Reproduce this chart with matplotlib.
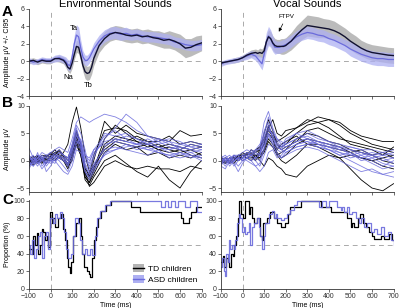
import numpy as np
import matplotlib.pyplot as plt
from matplotlib.patches import Patch
from matplotlib.lines import Line2D

# ---- colours ----
TD_LINE = "black"
TD_FILL = "#b4b4b4"
ASD_LINE = "#6b6bdc"
ASD_FILL = "#aeb0f2"

# ---- panel A: grand means and CI half widths ----
t_a = [-100, -80, -60, -40, -20, 0, 20, 40, 60, 70, 80, 90, 100, 110, 120, 130, 140, 150, 160, 170,
       180, 190, 200, 225, 250, 275, 300, 325, 350, 375, 400, 425, 450, 475, 500, 525, 550, 575,
       600, 625, 650, 675, 700]

env_td = [0.0, 0.1, -0.1, 0.1, 0.0, 0.0, 0.3, 0.3, 0.1, -0.2, -0.7, -0.9, -0.2, 0.8, 1.7, 1.6, 0.6,
          -0.5, -1.2, -1.4, -1.3, -0.7, 0.3, 1.8, 2.6, 3.1, 3.3, 3.2, 3.0, 2.9, 3.0, 2.8, 2.9, 2.7,
          2.6, 2.4, 2.5, 2.3, 2.0, 1.5, 1.6, 1.9, 2.1]
env_td_ci = [0.3, 0.3, 0.3, 0.3, 0.3, 0.3, 0.3, 0.4, 0.4, 0.5, 0.5, 0.5, 0.6, 0.6, 0.7, 0.7, 0.7,
             0.7, 0.8, 0.8, 0.8, 0.8, 0.8, 0.8, 0.8, 0.8, 0.8, 0.8, 0.8, 0.8, 0.8, 0.8, 0.8, 0.8,
             0.9, 0.9, 1.0, 1.0, 1.1, 1.1, 1.0, 1.0, 0.9]
env_asd = [0.1, -0.1, 0.0, 0.2, 0.1, 0.1, 0.3, 0.4, 0.2, 0.0, -0.4, -0.5, 0.5, 2.0, 3.0, 2.8, 1.5,
           0.5, 0.1, 0.1, 0.4, 0.9, 1.4, 2.3, 2.9, 3.2, 3.3, 3.1, 3.2, 3.0, 3.1, 2.9, 2.8, 2.8, 2.7,
           2.6, 2.5, 2.2, 2.1, 1.9, 1.8, 1.8, 1.9]
env_asd_ci = [0.3, 0.3, 0.3, 0.3, 0.3, 0.3, 0.4, 0.4, 0.4, 0.5, 0.6, 0.6, 0.8, 1.0, 1.2, 1.1, 0.9,
              0.7, 0.6, 0.6, 0.6, 0.6, 0.7, 0.7, 0.7, 0.7, 0.7, 0.7, 0.7, 0.6, 0.6, 0.6, 0.6, 0.6,
              0.6, 0.6, 0.6, 0.6, 0.6, 0.6, 0.6, 0.6, 0.6]

voc_td = [-0.2, -0.1, 0.0, 0.1, 0.2, 0.4, 0.7, 0.9, 1.0, 0.9, 1.0, 0.9, 1.2, 2.2, 2.8, 2.6, 2.1,
          1.8, 1.7, 1.7, 1.7, 1.7, 1.8, 2.3, 3.0, 3.6, 4.1, 4.0, 3.9, 3.8, 3.7, 3.5, 3.2, 2.8, 2.3,
          1.9, 1.5, 1.2, 1.0, 0.9, 0.8, 0.7, 0.65]
voc_td_ci = [0.2, 0.2, 0.2, 0.3, 0.3, 0.3, 0.3, 0.4, 0.4, 0.4, 0.5, 0.5, 0.6, 0.7, 0.8, 0.8, 0.8,
             0.8, 0.8, 0.8, 0.9, 0.9, 0.9, 1.0, 1.1, 1.1, 1.2, 1.2, 1.2, 1.1, 1.1, 1.1, 1.0, 1.0,
             1.0, 1.0, 0.9, 0.9, 0.9, 0.9, 0.9, 0.9, 0.9]
voc_asd = [-0.3, -0.1, 0.0, 0.1, 0.2, 0.4, 0.6, 0.8, 0.6, 0.3, 0.0, -0.3, 0.8, 2.2, 2.9, 2.6, 2.0,
           1.6, 1.6, 1.6, 1.7, 1.8, 1.9, 2.3, 2.8, 3.1, 3.3, 3.2, 3.0, 2.9, 2.6, 2.4, 2.1, 1.8, 1.4,
           1.1, 0.8, 0.6, 0.4, 0.3, 0.3, 0.2, 0.2]
voc_asd_ci = [0.3, 0.3, 0.3, 0.3, 0.3, 0.3, 0.4, 0.4, 0.5, 0.5, 0.6, 0.7, 0.9, 1.1, 1.1, 1.0, 0.9,
              0.8, 0.7, 0.7, 0.7, 0.7, 0.7, 0.7, 0.7, 0.7, 0.7, 0.7, 0.7, 0.7, 0.7, 0.7, 0.7, 0.7,
              0.8, 0.8, 0.8, 0.8, 0.8, 0.8, 0.8, 0.8, 0.8]

# ---- panel B: individual children ----
t_b = [-100, -80, -60, -40, -20, 0, 20, 40, 60, 80, 100, 120, 140, 160, 180, 200, 250, 300, 350,
       400, 450, 500, 550, 600, 650, 700]

env_td_subj = [
    [0.5, -0.5, 0.8, 0.2, 0.5, 0.3, 1.0, 0.5, 1.5, 3.0, 7.0, 9.8, 6.0, 1.0, -2.0, -1.0, 2.0, 3.5, 3.0, 2.5, 3.0, 2.0, 2.5, 2.0, 3.0, 2.5],
    [-0.5, 0.3, -0.2, 0.5, 0.0, 0.8, 1.2, 0.5, 0.0, -1.5, 0.5, 3.0, 1.0, -3.5, -4.5, -3.0, 0.0, 1.0, -0.5, -2.0, -3.0, -1.0, -3.5, -5.0, -2.0, 0.0],
    [0.2, 0.8, 0.0, -0.5, 0.5, 1.5, 1.0, 2.0, 1.0, 0.0, 2.0, 5.0, 3.0, -1.0, -3.0, 0.0, 7.2, 5.0, 6.5, 5.0, 4.5, 4.0, 3.5, 5.5, 4.5, 4.8],
    [-1.0, 0.0, 0.5, -0.3, 1.0, 0.5, 0.0, 1.0, 0.5, -1.0, 1.0, 4.0, 2.5, -2.0, -4.7, -4.0, -1.0, 0.0, -1.0, -1.5, -1.0, -1.5, -1.5, -2.0, -1.0, -1.5],
    [0.5, -0.3, 0.2, 1.0, 0.8, 1.2, 2.0, 1.0, 0.5, -0.5, 1.5, 4.5, 2.0, -2.5, -3.5, -2.0, 3.0, 4.5, 4.0, 3.5, 2.5, 3.0, 2.0, 1.5, 2.0, 1.0],
    [-0.3, 0.5, 1.0, 0.3, -0.5, 0.8, 1.5, 1.8, 1.0, 0.5, 2.5, 5.5, 3.0, -1.5, -2.5, 1.0, 5.5, 6.0, 5.5, 4.0, 3.5, 3.5, 4.5, 3.0, 3.5, 3.0],
    [0.0, -0.8, -0.2, 0.5, 0.2, 0.0, 0.5, 1.5, 0.8, -1.0, 0.0, 3.5, 1.5, -3.0, -4.0, -2.5, 1.5, 3.0, 2.0, 2.5, 1.0, 1.5, 0.5, 1.0, 0.5, 1.5],
    [0.3, 0.0, -0.5, 0.5, 1.0, 0.5, 1.0, 0.5, 0.0, -0.5, 1.5, 4.0, 2.0, -2.0, -3.0, -1.0, 2.5, 4.0, 3.5, 4.5, 3.5, 2.5, 3.0, 2.5, 2.0, 2.5],
    [-0.5, 0.5, 0.5, 0.0, -0.5, 1.0, 1.5, 1.0, 0.0, -1.0, 1.0, 3.0, 1.0, -3.0, -4.0, -1.5, 4.0, 6.5, 5.0, 3.5, 3.0, 2.0, 1.5, 2.0, 1.0, 0.5],
]
env_asd_subj = [
    [1.0, 0.0, 0.5, 1.5, 1.0, 1.5, 2.0, 2.5, 2.0, 1.5, 4.0, 7.0, 8.0, 7.5, 7.0, 7.5, 8.5, 8.0, 7.0, 5.5, 4.5, 4.0, 3.5, 3.0, 3.5, 3.0],
    [0.0, -1.0, 0.5, 0.0, -0.5, 1.0, 0.5, 1.5, 1.0, 0.5, 3.0, 6.0, 3.0, 0.0, -1.0, 1.0, 4.0, 6.0, 8.5, 7.0, 4.5, 3.5, 4.0, 3.5, 2.5, 3.0],
    [2.3, 0.5, -0.5, 0.0, 1.0, 0.5, 1.0, 0.5, 0.0, -0.5, 1.5, 5.0, 2.5, -1.0, -2.5, -1.0, 2.5, 4.0, 3.5, 3.0, 3.5, 2.5, 2.0, 3.0, 2.5, 2.0],
    [-1.0, 0.5, 0.0, -1.5, -0.5, 0.0, -0.5, 1.0, 0.5, -1.0, 2.0, 4.0, 2.0, -2.0, -3.0, -1.5, 1.0, 3.5, 4.5, 4.0, 3.0, 3.5, 2.5, 2.0, 1.5, 2.0],
    [0.5, 1.0, -0.5, 0.5, -2.0, -1.0, 0.5, 0.0, -1.0, -2.0, 0.0, 3.0, 4.0, 1.0, 0.5, 2.0, 3.0, 3.5, 3.0, 2.5, 2.0, 1.5, 1.0, 1.5, 0.5, 1.0],
    [-0.5, -0.5, 1.5, -1.0, 0.0, 0.5, 1.5, 2.0, 1.0, 0.0, 3.0, 6.5, 5.0, 2.0, -1.5, 0.5, 5.0, 4.5, 5.0, 4.0, 3.0, 4.0, 3.0, 2.5, 2.0, 2.5],
    [0.0, 0.5, 0.0, 0.8, -1.0, 0.0, 0.0, -1.0, -2.0, -2.5, -1.0, 2.0, 1.5, -2.0, -3.5, -2.0, 1.5, 2.0, 2.5, 3.0, 2.0, 2.5, 1.5, 1.0, 1.5, 0.5],
    [1.0, -0.5, 0.5, 1.0, 0.5, 1.5, 1.0, 0.5, 0.5, 0.0, 2.5, 5.5, 3.5, 0.5, -0.5, 2.0, 4.5, 5.5, 4.0, 3.0, 4.0, 3.0, 3.5, 2.0, 3.0, 2.5],
    [-1.5, 0.0, -1.0, 0.5, 0.0, -0.5, 0.5, 1.0, 0.5, -0.5, 1.0, 3.5, 3.0, -0.5, -2.0, -0.5, 2.0, 2.5, 2.0, 1.5, 1.0, 2.0, 0.5, 1.5, 1.0, 0.5],
    [0.5, 0.0, 1.0, 0.5, 0.5, 0.0, 1.0, 1.5, 1.0, 0.5, 2.0, 4.5, 3.5, 1.0, 0.0, 1.5, 3.5, 4.0, 3.5, 3.0, 3.0, 2.5, 2.0, 2.5, 2.0, 1.5],
    [-0.5, -1.0, 0.0, 0.5, -0.5, 0.5, 0.0, 0.5, 0.0, -1.0, 0.5, 2.5, 2.5, -1.0, -2.5, -1.0, 1.0, 2.0, 3.0, 2.0, 2.5, 1.5, 1.0, 0.5, 1.0, 0.0],
]
voc_td_subj = [
    [0.0, 0.5, 0.0, 0.5, 1.0, 0.5, 1.5, 1.0, 2.0, 2.5, 4.0, 6.0, 7.5, 5.0, 4.5, 5.5, 6.0, 7.0, 8.0, 7.5, 7.0, 5.5, 4.5, 4.0, 3.5, 3.5],
    [0.5, -0.5, 0.0, 0.5, 0.0, 1.0, 0.5, 0.5, 1.0, 0.0, -1.0, 0.5, 0.0, -1.0, -1.5, -2.5, -3.0, -1.0, 0.0, 1.0, 0.5, 1.0, 0.5, 0.0, 0.5, 1.0],
    [-0.5, 0.0, 0.5, 0.0, 0.5, 0.5, 1.0, 1.5, 0.5, 1.0, 2.0, 5.0, 4.0, 2.0, 3.0, 3.5, 4.5, 3.0, 2.5, 1.5, 0.5, -1.5, -3.5, -5.0, -5.5, -4.2],
    [0.0, 0.5, -0.5, 1.0, 0.5, 1.5, 1.0, 2.0, 1.5, 2.5, 3.5, 5.5, 4.5, 3.0, 2.5, 3.0, 5.0, 6.5, 7.0, 7.5, 6.5, 5.0, 4.0, 3.0, 2.5, 2.0],
    [0.5, 0.0, 0.5, 0.0, 1.0, 0.0, 0.5, 1.0, 0.0, 1.5, 3.0, 6.5, 4.0, 1.0, 1.5, 2.0, 4.0, 5.0, 4.5, 3.5, 3.0, 2.0, 1.5, 1.0, 0.0, -0.5],
    [-0.5, 0.0, 0.0, -0.5, 0.5, 1.0, 0.5, 0.0, 1.0, 0.5, 2.0, 4.0, 3.0, 1.5, 0.5, 1.0, 3.0, 4.0, 3.5, 3.0, 2.5, 1.5, 2.0, 1.0, 1.5, 0.5],
    [0.0, -0.5, 0.5, 0.5, 0.0, 0.5, 1.5, 1.0, 0.5, 2.0, 5.0, 7.5, 5.5, 3.0, 2.0, 2.5, 3.5, 5.5, 6.0, 5.0, 4.0, 3.5, 3.0, 2.5, 2.0, 1.5],
    [0.0, 0.5, 0.0, 0.5, 0.5, 1.0, 1.0, 1.5, 1.0, 0.5, 1.5, 3.5, 2.5, 1.0, 0.0, -0.5, 1.0, 3.0, 3.0, 2.5, 2.0, 1.5, 0.5, 0.0, -1.0, -1.5],
    [0.5, 0.0, -0.5, 0.0, 1.0, 1.0, 0.5, 1.0, 1.5, 2.0, 3.0, 6.0, 5.0, 3.5, 4.0, 4.5, 6.0, 7.5, 7.0, 6.0, 4.5, 3.0, 2.5, 2.0, 1.0, 2.5],
]
voc_asd_subj = [
    [0.5, -0.5, 0.0, 1.0, 0.5, 0.0, 0.5, 1.0, 1.5, 2.5, 7.0, 9.0, 6.0, 4.0, 3.5, 3.0, 4.0, 4.5, 3.5, 3.0, 2.5, 2.0, 1.5, 1.0, 0.5, -0.5],
    [-1.0, -1.5, 0.0, -0.5, -2.0, -0.5, 0.5, 0.0, -1.0, -0.5, 2.0, 5.0, 3.0, 1.0, 0.5, 1.5, 2.5, 3.0, 2.5, 2.0, 1.0, 0.0, -1.0, -2.0, -2.5, -3.0],
    [0.0, 0.5, 1.0, 0.0, 0.5, 1.0, 1.5, 1.0, 0.5, 1.0, 4.0, 6.0, 4.5, 3.0, 2.0, 3.5, 5.0, 5.5, 4.5, 3.5, 2.5, 2.5, 2.0, 1.0, 1.5, 1.0],
    [0.5, 0.0, -0.5, 0.5, 0.0, 0.5, 0.0, -0.5, -1.0, -2.0, -1.0, 1.5, 2.0, 0.5, 1.0, 2.0, 3.0, 3.5, 3.0, 2.0, 1.5, 0.5, 1.0, 0.0, -1.0, 0.0],
    [-0.5, 0.5, 0.0, 1.0, 1.0, 1.5, 2.0, 1.5, 1.0, 1.5, 3.5, 5.5, 5.0, 4.0, 3.0, 2.5, 3.5, 4.0, 3.5, 3.0, 2.0, 1.5, 0.5, 1.0, 0.0, 0.5],
    [0.0, -1.0, 0.5, -1.0, 0.0, 0.5, 1.0, 0.5, 0.0, -1.0, 1.0, 3.0, 2.5, 1.5, 0.5, 1.0, 2.0, 2.5, 2.0, 1.0, 0.0, -1.0, -2.0, -1.5, -2.5, -2.0],
    [1.0, 0.0, 0.5, 0.0, 0.5, 0.0, 0.5, 2.0, 1.5, 1.0, 5.0, 8.0, 5.5, 3.5, 2.5, 4.0, 5.0, 4.0, 3.0, 2.5, 2.5, 1.0, 1.5, 0.5, 1.0, 0.5],
    [-1.0, 0.5, -0.5, 0.0, -1.0, 0.0, 0.5, 0.0, 0.5, 0.0, 2.5, 4.5, 3.0, 2.0, 1.5, 2.0, 3.0, 3.5, 2.5, 2.0, 1.0, 1.5, 0.0, 0.5, -0.5, -1.0],
    [0.5, 1.0, 0.0, 0.5, 1.0, 0.5, 1.0, 1.5, 2.0, 3.0, 4.5, 6.5, 4.0, 2.5, 2.0, 1.5, 2.5, 3.0, 3.5, 2.5, 2.0, 2.0, 1.0, 1.5, 1.0, 1.5],
    [0.0, 0.5, -1.0, 0.0, 0.5, 1.0, 0.5, 1.0, 0.5, 1.0, 3.0, 5.0, 3.5, 2.5, 2.0, 2.5, 3.5, 4.0, 3.0, 2.5, 1.5, 1.0, 0.5, -0.5, -1.5, -1.0],
    [-0.5, 0.0, 0.5, 1.0, 0.0, 0.5, 1.5, 1.0, 2.0, 2.0, 5.5, 7.0, 4.0, 3.0, 2.5, 3.0, 4.0, 5.0, 4.0, 3.5, 3.0, 2.5, 2.0, 2.0, 1.5, 2.0],
]

# ---- panel C: proportion (step functions, change points) ----
env_td_prop_t = [-100, -88, -80, -72, -65, -57, -49, -41, -33, -26, -18, -11, -3, 5, 12, 20, 36, 47,
                 59, 66, 74, 82, 90, 97, 105, 120, 133, 140, 148, 156, 167, 179, 185, 194, 202, 210,
                 220, 236, 259, 282, 371, 413, 606, 614, 622, 643, 652, 675, 700]
env_td_prop = [45, 40, 60, 50, 63, 40, 50, 68, 65, 55, 60, 47, 87, 75, 80, 70, 80, 85, 68, 55, 35,
               25, 18, 30, 60, 75, 80, 60, 40, 25, 20, 17, 13, 35, 55, 70, 80, 88, 95, 100, 93, 87,
               80, 75, 75, 80, 87, 93, 93]
env_asd_prop_t = [-100, -94, -86, -75, -67, -59, -49, -38, -29, -21, -14, -3, 9, 20, 32, 43, 55, 63,
                  71, 82, 93, 102, 114, 125, 136, 145, 159, 170, 182, 194, 205, 216, 228, 251, 274,
                  513, 529, 545, 560, 575, 590, 625, 645, 680, 700]
env_asd_prop = [50, 40, 55, 35, 45, 60, 65, 35, 60, 65, 45, 80, 75, 85, 80, 87, 80, 65, 45, 35, 40,
                60, 80, 75, 55, 40, 45, 38, 45, 38, 60, 80, 88, 95, 100, 93, 100, 93, 100, 93, 100,
                93, 100, 87, 87]

voc_td_prop_t = [-100, -92, -84, -77, -69, -61, -53, -46, -38, -30, -22, -15, -7, 1, 9, 29, 36, 44,
                 55, 67, 80, 88, 95, 111, 129, 145, 160, 176, 199, 210, 222, 269, 354, 362, 408,
                 486, 501, 509, 517, 533, 545, 556, 571, 587, 602, 610, 641, 656, 680, 695, 700]
voc_td_prop = [30, 37, 25, 35, 30, 25, 40, 37, 50, 60, 80, 100, 85, 80, 100, 85, 93, 80, 75, 80, 60,
               55, 75, 80, 87, 80, 75, 70, 75, 85, 93, 100, 100, 93, 87, 80, 70, 75, 70, 80, 85,
               75, 70, 65, 60, 57, 60, 57, 62, 55, 55]
voc_asd_prop_t = [-100, -94, -88, -83, -75, -69, -64, -57, -49, -41, -33, -26, -18, -10, -2, 6, 13,
                  21, 29, 36, 44, 52, 67, 75, 83, 91, 99, 106, 122, 137, 145, 153, 160, 176, 192,
                  207, 222, 238, 253, 354, 370, 385, 401, 440, 455, 463, 471, 486, 494, 509, 525,
                  540, 548, 564, 579, 594, 610, 625, 641, 656, 672, 687, 700]
voc_asd_prop = [25, 35, 20, 15, 40, 30, 55, 45, 50, 45, 55, 75, 85, 80, 65, 70, 62, 65, 75, 50, 70,
                75, 80, 70, 60, 45, 60, 75, 85, 88, 80, 85, 80, 78, 80, 85, 90, 95, 100, 93, 100, 93,
                100, 93, 90, 93, 87, 93, 85, 87, 80, 75, 80, 70, 75, 65, 68, 62, 70, 60, 65, 55, 50]

titles = ["Environmental Sounds", "Vocal Sounds"]
ylabels = ["Amplitude μV +/- CI95", "Amplitude μV", "Proportion (%)"]


def style_axes(ax, ylim, yticks):
    ax.set_xlim(-100, 702)
    ax.set_ylim(*ylim)
    ax.set_yticks(yticks)
    ax.set_xticks(range(-100, 701, 100))
    for side in ("top", "right"):
        ax.spines[side].set_visible(False)
    for side in ("left", "bottom"):
        ax.spines[side].set_color("#333333")
        ax.spines[side].set_linewidth(0.6)
    ax.tick_params(labelsize=5, length=2, width=0.5, pad=1, colors="#333333")
    ax.axvline(0, color="#aaaaaa", lw=0.7, ls=(0, (5, 4)), zorder=0)


plt.rcParams["font.family"] = ["Liberation Sans", "DejaVu Sans"]
fig = plt.figure(figsize=(4.0, 3.08), dpi=100)

cols_x = [0.0725, 0.5525]
col_w = 0.4325
rows = [(0.688, 0.283), (0.377, 0.279), (0.062, 0.289)]
letter_y = [0.961, 0.666, 0.351]

panel_a = [(env_td, env_td_ci, env_asd, env_asd_ci), (voc_td, voc_td_ci, voc_asd, voc_asd_ci)]
panel_b = [(env_td_subj, env_asd_subj), (voc_td_subj, voc_asd_subj)]
panel_c = [(env_td_prop_t, env_td_prop, env_asd_prop_t, env_asd_prop),
           (voc_td_prop_t, voc_td_prop, voc_asd_prop_t, voc_asd_prop)]

for c in range(2):
    x0 = cols_x[c]
    # A
    axA = fig.add_axes([x0, rows[0][0], col_w, rows[0][1]])
    style_axes(axA, (-4, 6), [-4, -2, 0, 2, 4, 6])
    axA.set_xticklabels([])
    axA.axhline(0, color="#aaaaaa", lw=0.7, ls=(0, (5, 4)), zorder=0)
    td, td_ci, asd, asd_ci = (np.array(v, dtype=float) for v in panel_a[c])
    axA.fill_between(t_a, td - td_ci, td + td_ci, color=TD_FILL, lw=0, alpha=0.9)
    axA.fill_between(t_a, asd - asd_ci, asd + asd_ci, color=ASD_FILL, lw=0, alpha=0.75)
    axA.plot(t_a, asd, color=ASD_LINE, lw=0.9)
    axA.plot(t_a, td, color="#101030", lw=1.0)
    axA.set_title(titles[c], fontsize=8, pad=0)

    # B
    axB = fig.add_axes([x0, rows[1][0], col_w, rows[1][1]])
    style_axes(axB, (-5.7, 10), [-5, 0, 5, 10])
    axB.set_xticklabels([])
    subj_td, subj_asd = panel_b[c]
    for y in subj_td:
        axB.plot(t_b, y, color=TD_LINE, lw=0.6)
    for y in subj_asd:
        axB.plot(t_b, y, color=ASD_LINE, lw=0.6, alpha=0.85)

    # C
    axC = fig.add_axes([x0, rows[2][0], col_w, rows[2][1]])
    style_axes(axC, (0, 101), [0, 20, 40, 60, 80, 100])
    axC.axhline(50, color="#aaaaaa", lw=0.7, ls=(0, (5, 4)), zorder=0)
    tt, tv, at, av = panel_c[c]
    axC.step(tt, tv, where="post", color=TD_LINE, lw=0.9)
    axC.step(at, av, where="post", color=ASD_LINE, lw=0.9, alpha=0.9)
    axC.set_xlabel("Time (ms)", fontsize=5, labelpad=0)
    axC.xaxis.set_label_coords(0.5, -0.15)

    if c == 0:
        axA.text(108, 3.6, "Ta", fontsize=5.5, ha="center")
        axA.text(82, -2.0, "Na", fontsize=5.5, ha="center")
        axA.text(175, -2.9, "Tb", fontsize=5.5, ha="center")
        handles = [(Patch(facecolor=TD_FILL, edgecolor="none"), Line2D([], [], color=TD_LINE, lw=1)),
                   (Patch(facecolor=ASD_FILL, edgecolor="none"), Line2D([], [], color=ASD_LINE, lw=1))]
        axC.legend(handles, ["TD children", "ASD children"], loc="lower right", fontsize=6,
                   frameon=False, handlelength=1.4, handleheight=1.0, borderaxespad=0.2,
                   labelspacing=0.3, handletextpad=0.4)
    else:
        axA.annotate("FTPV", xy=(162, 3.1), xytext=(205, 5.0), fontsize=4.5, ha="center",
                     arrowprops=dict(arrowstyle="-|>", color="black", lw=0.5, mutation_scale=5))

# panel letters and y labels
for letter, yl, ly, (y0, h) in zip("ABC", ylabels, letter_y, rows):
    fig.text(0.005, ly, letter, fontsize=11, fontweight="bold", va="center")
    fig.text(0.02, y0 + h / 2, yl, fontsize=5, rotation=90, va="center", ha="center")

fig.savefig("out.png", dpi=100)
